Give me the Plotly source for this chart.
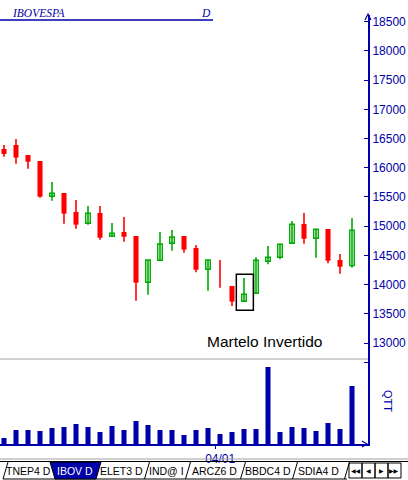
import plotly.graph_objects as go

# ---------------- data ----------------
opens  = [16322, 16390, 16219, 16116, 15512, 15568, 15243, 15050, 15226, 14827,
          14901, 14832, 14039, 14416, 14707, 14832, 14627, 14262, 14180, 13976,
          13714, 13851, 14399, 14467, 14707, 15038, 14793, 14952, 14421, 14324]
highs  = [16390, 16493, 16219, 16116, 15757, 15568, 15449, 15346, 15346, 15055,
          15157, 14832, 14421, 14901, 14935, 14832, 14678, 14421, 14421, 13976,
          14113, 14467, 14661, 14690, 15089, 15226, 14947, 14952, 14524, 15140]
lows   = [16190, 16070, 15985, 15488, 15437, 15043, 14957, 15026, 14769, 14827,
          14735, 13724, 13827, 14416, 14580, 14546, 14211, 13896, 13947, 13634,
          13714, 13851, 14348, 14433, 14707, 14700, 14461, 14365, 14187, 14289]
closes = [16236, 16173, 16104, 15505, 15563, 15214, 15026, 15221, 14803, 14878,
          14820, 14033, 14421, 14695, 14815, 14598, 14255, 14421, 14180, 13707,
          13834, 14416, 14467, 14690, 15032, 14786, 14947, 14409, 14306, 14930]
volumes = [18, 42, 42, 39, 48, 51, 60, 51, 36, 54, 42, 69, 57, 42, 42,
           27, 42, 48, 30, 36, 45, 45, 231, 36, 51, 48, 39, 63, 45, 174]

price_ticks = [13000, 13500, 14000, 14500, 15000, 15500, 16000, 16500, 17000, 17500, 18000, 18500]
date_labels = ["04/01"]
date_positions = [17.6]
pattern_index = 20
pattern_label = "Martelo Invertido"
chart_title = "IBOVESPA"
period_label = "D"
volume_label = "QTT"
tab_labels = ["TNEP4 D", "IBOV D", "ELET3 D", "IND@ I", "ARCZ6 D", "BBDC4 D", "SDIA4 D"]
nav_labels = ["◀◀", "◀", "▶", "▶▶"]

# ---------------- style ----------------
BLUE = "#0000AA"
RED = "#FF0000"
GREEN = "#00AA00"
W, H = 408, 480
ML, MR, MT, MB = 0, 40, 15, 36
PW, PH = W - ML - MR, H - MT - MB
SEP_PX = 359
vol_frac = (H - MB - SEP_PX) / PH


def px_x(x):
    return (x - ML) / PW


def px_y(y):
    return (H - MB - y) / PH


n = len(opens)
up = [i for i in range(n) if closes[i] > opens[i]]
down = [i for i in range(n) if closes[i] <= opens[i]]


def wick_xy(idx):
    xs, ys = [], []
    for i in idx:
        xs += [i, i, None]
        ys += [lows[i], highs[i], None]
    return xs, ys


fig = go.Figure()
for idx, col in ((down, RED), (up, GREEN)):
    wx, wy = wick_xy(idx)
    fig.add_trace(go.Scatter(x=wx, y=wy, mode="lines", line=dict(color=col, width=1.6),
                             hoverinfo="skip", xaxis="x", yaxis="y"))

fig.add_trace(go.Bar(x=down, y=[opens[i] - closes[i] for i in down],
                     base=[closes[i] for i in down], width=0.42,
                     marker=dict(color=RED, line=dict(width=0)), xaxis="x", yaxis="y"))
fig.add_trace(go.Bar(x=up, y=[closes[i] - opens[i] for i in up],
                     base=[opens[i] for i in up], width=0.38,
                     marker=dict(color="white", line=dict(color=GREEN, width=1.4)),
                     xaxis="x", yaxis="y"))
fig.add_trace(go.Bar(x=list(range(n)), y=volumes, width=0.42,
                     marker=dict(color=BLUE, line=dict(width=0)), xaxis="x", yaxis="y2"))

shapes = []
# separator between panels
shapes.append(dict(type="line", xref="paper", yref="paper", x0=0, x1=1, y0=vol_frac, y1=vol_frac,
                   line=dict(color="#A0A0A0", width=1)))
# title underline
shapes.append(dict(type="line", xref="paper", yref="paper", x0=px_x(0), x1=px_x(213),
                   y0=px_y(20), y1=px_y(20), line=dict(color=BLUE, width=1.5)))
# arrowheads
shapes.append(dict(type="path", xref="paper", yref="paper",
                   path=f"M {px_x(365)},{px_y(20)} L {px_x(368)},{px_y(14)} L {px_x(371)},{px_y(20)}",
                   line=dict(color=BLUE, width=1.2)))
shapes.append(dict(type="path", xref="paper", yref="paper",
                   path=f"M {px_x(362)},{px_y(441)} L {px_x(367)},{px_y(444)} L {px_x(362)},{px_y(447)}",
                   line=dict(color=BLUE, width=1.2)))
# pattern box
shapes.append(dict(type="rect", xref="x", yref="y",
                   x0=pattern_index - 0.64, x1=pattern_index + 0.78,
                   y0=lows[pattern_index] - 154, y1=highs[pattern_index] + 63,
                   line=dict(color="black", width=1.5)))

# tab bar
shapes.append(dict(type="line", xref="paper", yref="paper", x0=0, x1=px_x(W), y0=px_y(459), y1=px_y(459),
                   line=dict(color="#A0A0A0", width=1)))
shapes.append(dict(type="line", xref="paper", yref="paper", x0=0, x1=px_x(W), y0=px_y(461.5), y1=px_y(461.5),
                   line=dict(color="black", width=1)))
shapes.append(dict(type="line", xref="paper", yref="paper", x0=px_x(3), x1=px_x(347), y0=px_y(479), y1=px_y(479),
                   line=dict(color="black", width=1)))
tab_edges = [5.5, 52, 100, 147, 188, 243, 295, 347]
for k, c in enumerate(tab_edges):
    if k in (1, 2):
        continue
    shapes.append(dict(type="line", xref="paper", yref="paper", x0=px_x(c - 2.5), x1=px_x(c + 2.5),
                       y0=px_y(479), y1=px_y(462), line=dict(color="black", width=1)))
shapes.append(dict(type="path", xref="paper", yref="paper",
                   path=(f"M {px_x(50)},{px_y(462)} L {px_x(101)},{px_y(462)} "
                         f"L {px_x(96)},{px_y(479)} L {px_x(55)},{px_y(479)} Z"),
                   fillcolor=BLUE, line=dict(color="black", width=1)))
# nav buttons
nav_edges = [349, 362, 375, 388, 401, 407]
for k in range(4):
    shapes.append(dict(type="rect", xref="paper", yref="paper", x0=px_x(nav_edges[k]), x1=px_x(nav_edges[k + 1]),
                       y0=px_y(478), y1=px_y(463), line=dict(color="black", width=1)))

annotations = []
annotations.append(dict(xref="paper", yref="paper", x=px_x(10), y=px_y(13.5), xanchor="left", yanchor="middle",
                        text=f"<i>{chart_title}</i>", showarrow=False,
                        font=dict(family="Liberation Serif", size=11.5, color=BLUE)))
annotations.append(dict(xref="paper", yref="paper", x=px_x(205.5), y=px_y(13.5), xanchor="center", yanchor="middle",
                        text=f"<i>{period_label}</i>", showarrow=False,
                        font=dict(family="Liberation Serif", size=11.5, color=BLUE)))
annotations.append(dict(xref="paper", yref="paper", x=px_x(264), y=px_y(341), xanchor="center", yanchor="middle",
                        text=pattern_label, showarrow=False,
                        font=dict(family="Liberation Sans", size=15.5, color="black")))
annotations.append(dict(xref="paper", yref="paper", x=px_x(388), y=px_y(401), xanchor="center", yanchor="middle",
                        text=volume_label, textangle=90, showarrow=False,
                        font=dict(family="Liberation Sans", size=11, color=BLUE)))
tab_centers = [28, 75, 122, 166, 214, 268, 318]
for k, (lab, cx) in enumerate(zip(tab_labels, tab_centers)):
    annotations.append(dict(xref="paper", yref="paper", x=px_x(cx), y=px_y(470.5), xanchor="center",
                            yanchor="middle", text=lab, showarrow=False,
                            font=dict(family="Liberation Sans", size=10.5,
                                      color="white" if k == 1 else "black")))
for k, lab in enumerate(nav_labels):
    cx = (nav_edges[k] + nav_edges[k + 1]) / 2 if k < 3 else 394.5
    annotations.append(dict(xref="paper", yref="paper", x=px_x(cx), y=px_y(470.5), xanchor="center",
                            yanchor="middle", text=lab, showarrow=False,
                            font=dict(family="DejaVu Sans", size=6, color="black")))

fig.update_layout(
    width=W, height=H,
    margin=dict(l=ML, r=MR, t=MT, b=MB, pad=0),
    paper_bgcolor="white", plot_bgcolor="white",
    showlegend=False, barmode="overlay",
    xaxis=dict(domain=[0, 1], range=[-1 / 3, n + 1 / 3], anchor="y2",
               showline=True, linecolor=BLUE, linewidth=1.5, showgrid=False, zeroline=False,
               tickvals=date_positions, ticktext=date_labels, ticks="outside", ticklen=3,
               tickcolor=BLUE, ticklabelshift=5,
               tickfont=dict(family="Liberation Sans", size=12, color=BLUE)),
    yaxis=dict(domain=[vol_frac, 1], range=[12726, 18616], side="right", anchor="x",
               showline=True, linecolor=BLUE, linewidth=2, showgrid=False, zeroline=False,
               tickvals=price_ticks, tickformat="d", ticks="inside", ticklen=4, tickcolor=BLUE,
               tickfont=dict(family="Liberation Sans", size=12, color=BLUE)),
    yaxis2=dict(domain=[0, vol_frac], range=[0, 255], side="right", anchor="x",
                showline=True, linecolor=BLUE, linewidth=2, showgrid=False, zeroline=False,
                tickvals=[0, 245], ticks="inside", ticklen=4, tickcolor=BLUE, showticklabels=False),
    shapes=shapes,
    annotations=annotations,
)

fig.write_html("out.html", config={"displayModeBar": False})
